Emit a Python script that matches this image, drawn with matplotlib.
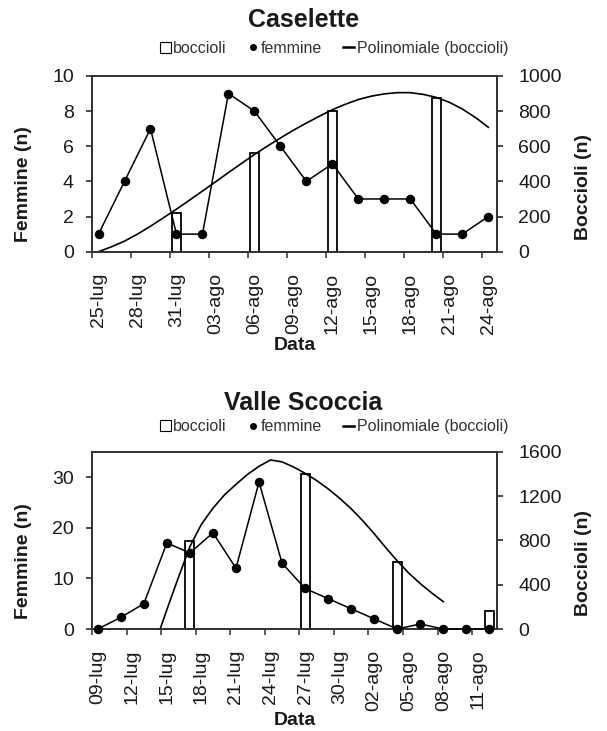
import matplotlib
matplotlib.use("Agg")
import matplotlib.pyplot as plt
import pandas as pd
from matplotlib.patches import Patch
from matplotlib.lines import Line2D

plt.rcParams['font.family'] = ['Liberation Sans', 'DejaVu Sans']

# ---- Caselette ----
cas_femm_dates = ["2010-07-25", "2010-07-27", "2010-07-29", "2010-07-31", "2010-08-02",
                  "2010-08-04", "2010-08-06", "2010-08-08", "2010-08-10", "2010-08-12",
                  "2010-08-14", "2010-08-16", "2010-08-18", "2010-08-20", "2010-08-22",
                  "2010-08-24"]
cas_femmine = [1, 4, 7, 1, 1, 9, 8, 6, 4, 5, 3, 3, 3, 1, 1, 2]
cas_bocc_dates = ["2010-07-31", "2010-08-06", "2010-08-12", "2010-08-20"]
cas_boccioli = [222, 560, 802, 877]
# polynomial trendline, one value per day 25-lug .. 24-ago
cas_trend_start = "2010-07-25"
cas_trend = [0, 28, 60, 100, 145, 193, 242, 293, 345, 397, 450, 502, 553, 601, 647, 691,
             732, 771, 808, 839, 866, 885, 898, 905, 905, 895, 878, 850, 812, 764, 708]
cas_ticks = ["25-lug", "28-lug", "31-lug", "03-ago", "06-ago", "09-ago",
             "12-ago", "15-ago", "18-ago", "21-ago", "24-ago"]
cas_tick_dates = ["2010-07-25", "2010-07-28", "2010-07-31", "2010-08-03", "2010-08-06",
                  "2010-08-09", "2010-08-12", "2010-08-15", "2010-08-18", "2010-08-21",
                  "2010-08-24"]

# ---- Valle Scoccia ----
val_femm_dates = ["2010-07-09", "2010-07-11", "2010-07-13", "2010-07-15", "2010-07-17",
                  "2010-07-19", "2010-07-21", "2010-07-23", "2010-07-25", "2010-07-27",
                  "2010-07-29", "2010-07-31", "2010-08-02", "2010-08-04", "2010-08-06",
                  "2010-08-08", "2010-08-10", "2010-08-12"]
val_femmine = [0, 2.3, 5, 17, 15, 19, 12, 29, 13, 8, 6, 4, 2, 0, 1, 0, 0, 0]
val_bocc_dates = ["2010-07-17", "2010-07-27", "2010-08-04", "2010-08-12"]
val_boccioli = [790, 1400, 603, 163]
val_trend_dates = ["2010-07-14 10:00", "2010-07-15", "2010-07-16", "2010-07-17", "2010-07-18",
                   "2010-07-19", "2010-07-20", "2010-07-21", "2010-07-22", "2010-07-23",
                   "2010-07-24", "2010-07-25", "2010-07-26", "2010-07-27", "2010-07-28",
                   "2010-07-29", "2010-07-30", "2010-07-31", "2010-08-01", "2010-08-02",
                   "2010-08-03", "2010-08-04", "2010-08-05", "2010-08-06", "2010-08-07",
                   "2010-08-08"]
val_trend = [0, 175, 465, 745, 945, 1090, 1210, 1305, 1395, 1468, 1525, 1508, 1462,
             1405, 1340, 1265, 1180, 1085, 978, 860, 735, 615, 505, 410, 325, 247]
val_ticks = ["09-lug", "12-lug", "15-lug", "18-lug", "21-lug", "24-lug", "27-lug",
             "30-lug", "02-ago", "05-ago", "08-ago", "11-ago"]
val_tick_dates = ["2010-07-09", "2010-07-12", "2010-07-15", "2010-07-18", "2010-07-21",
                  "2010-07-24", "2010-07-27", "2010-07-30", "2010-08-02", "2010-08-05",
                  "2010-08-08", "2010-08-11"]

SPINE = '#333333'
TXT = '#1a1a1a'


def to_dt(values):
    return pd.to_datetime(values, format='ISO8601')


def draw_panel(fig, rect, title, title_y, legend_y, femm_dates, femmine, bocc_dates,
               boccioli, trend_dates, trend, tick_dates, ticks, ylim_l, yticks_l,
               ylim_r, yticks_r, bar_w, xlabel_y):
    ax = fig.add_axes(rect)
    ax2 = ax.twinx()
    fd = to_dt(femm_dates)
    bd = to_dt(bocc_dates)

    ax2.bar(bd, boccioli, width=bar_w, color='white', edgecolor='black',
            linewidth=1.3, zorder=2)
    ax2.plot(trend_dates, trend, color='black', lw=1.2, zorder=3)
    ax.plot(fd, femmine, color='black', lw=1.1, marker='o', markersize=5.8, zorder=4,
            clip_on=False)

    # femmine drawn on top of bars
    ax.set_zorder(ax2.get_zorder() + 1)
    ax.patch.set_visible(False)

    x0 = fd[0] - pd.Timedelta(hours=12)
    x1 = fd[-1] + pd.Timedelta(hours=17)
    ax.set_xlim(x0, x1)
    ax.set_ylim(*ylim_l)
    ax.set_yticks(yticks_l)
    ax2.set_ylim(*ylim_r)
    ax2.set_yticks(yticks_r)

    tdts = to_dt(tick_dates)
    ax.set_xticks(tdts)
    ax.set_xticklabels(ticks, rotation=90)
    ax.set_xticks(tdts - pd.Timedelta(hours=12), minor=True)
    ax.tick_params(axis='x', which='major', length=0, pad=15, labelsize=14, colors=TXT)
    ax.tick_params(axis='x', which='minor', length=4, width=1.1, direction='out', color=SPINE)
    ax.tick_params(axis='y', length=4, width=1.1, direction='out', pad=9, labelsize=14,
                   colors=TXT)
    ax2.tick_params(axis='y', length=4, width=1.1, direction='out', pad=11, labelsize=14,
                    colors=TXT)
    for a in (ax, ax2):
        for s in a.spines.values():
            s.set_color(SPINE)
            s.set_linewidth(1.3)

    ax.set_ylabel('Femmine (n)', fontsize=14, fontweight='bold', color=TXT)
    ax.yaxis.set_label_coords(-0.149, 0.385)
    ax2.set_ylabel('Boccioli (n)', fontsize=14, fontweight='bold', color=TXT)
    ax2.yaxis.set_label_coords(1.191, 0.37)
    ax.set_xlabel('Data', fontsize=14, fontweight='bold', color=TXT)
    ax.xaxis.set_label_coords(0.5, xlabel_y)

    fig.text(0.5, title_y, title, ha='center', va='center', fontsize=18,
             fontweight='bold', color=TXT)
    handles = [Patch(facecolor='white', edgecolor='black', linewidth=0.8),
               Line2D([], [], color='black', marker='o', linestyle='None', markersize=4),
               Line2D([], [], color='black', lw=1.8)]
    fig.legend(handles, ['boccioli', 'femmine', 'Polinomiale (boccioli)'],
               loc='center', bbox_to_anchor=(0.55, legend_y), ncol=3, frameon=False,
               fontsize=11.5, handlelength=0.7, handleheight=0.7, handletextpad=0.15,
               columnspacing=1.3, labelcolor='#333333', borderaxespad=0)
    return ax, ax2


fig = plt.figure(figsize=(6.07, 7.31), dpi=100)

cas_trend_dates = pd.date_range(cas_trend_start, periods=len(cas_trend), freq='D')
draw_panel(fig, [0.1516, 0.6557, 0.668, 0.2404], 'Caselette', 0.9726, 0.934,
           cas_femm_dates, cas_femmine, cas_bocc_dates, cas_boccioli,
           cas_trend_dates, cas_trend, cas_tick_dates, cas_ticks,
           (0, 10), [0, 2, 4, 6, 8, 10], (0, 1000), [0, 200, 400, 600, 800, 1000],
           0.65, -0.486)

draw_panel(fig, [0.1516, 0.1395, 0.668, 0.2426], 'Valle Scoccia', 0.4487, 0.416,
           val_femm_dates, val_femmine, val_bocc_dates, val_boccioli,
           to_dt(val_trend_dates), val_trend, val_tick_dates, val_ticks,
           (0, 35), [0, 10, 20, 30], (0, 1600), [0, 400, 800, 1200, 1600],
           0.78, -0.47)

fig.savefig('out.png', dpi=100)
